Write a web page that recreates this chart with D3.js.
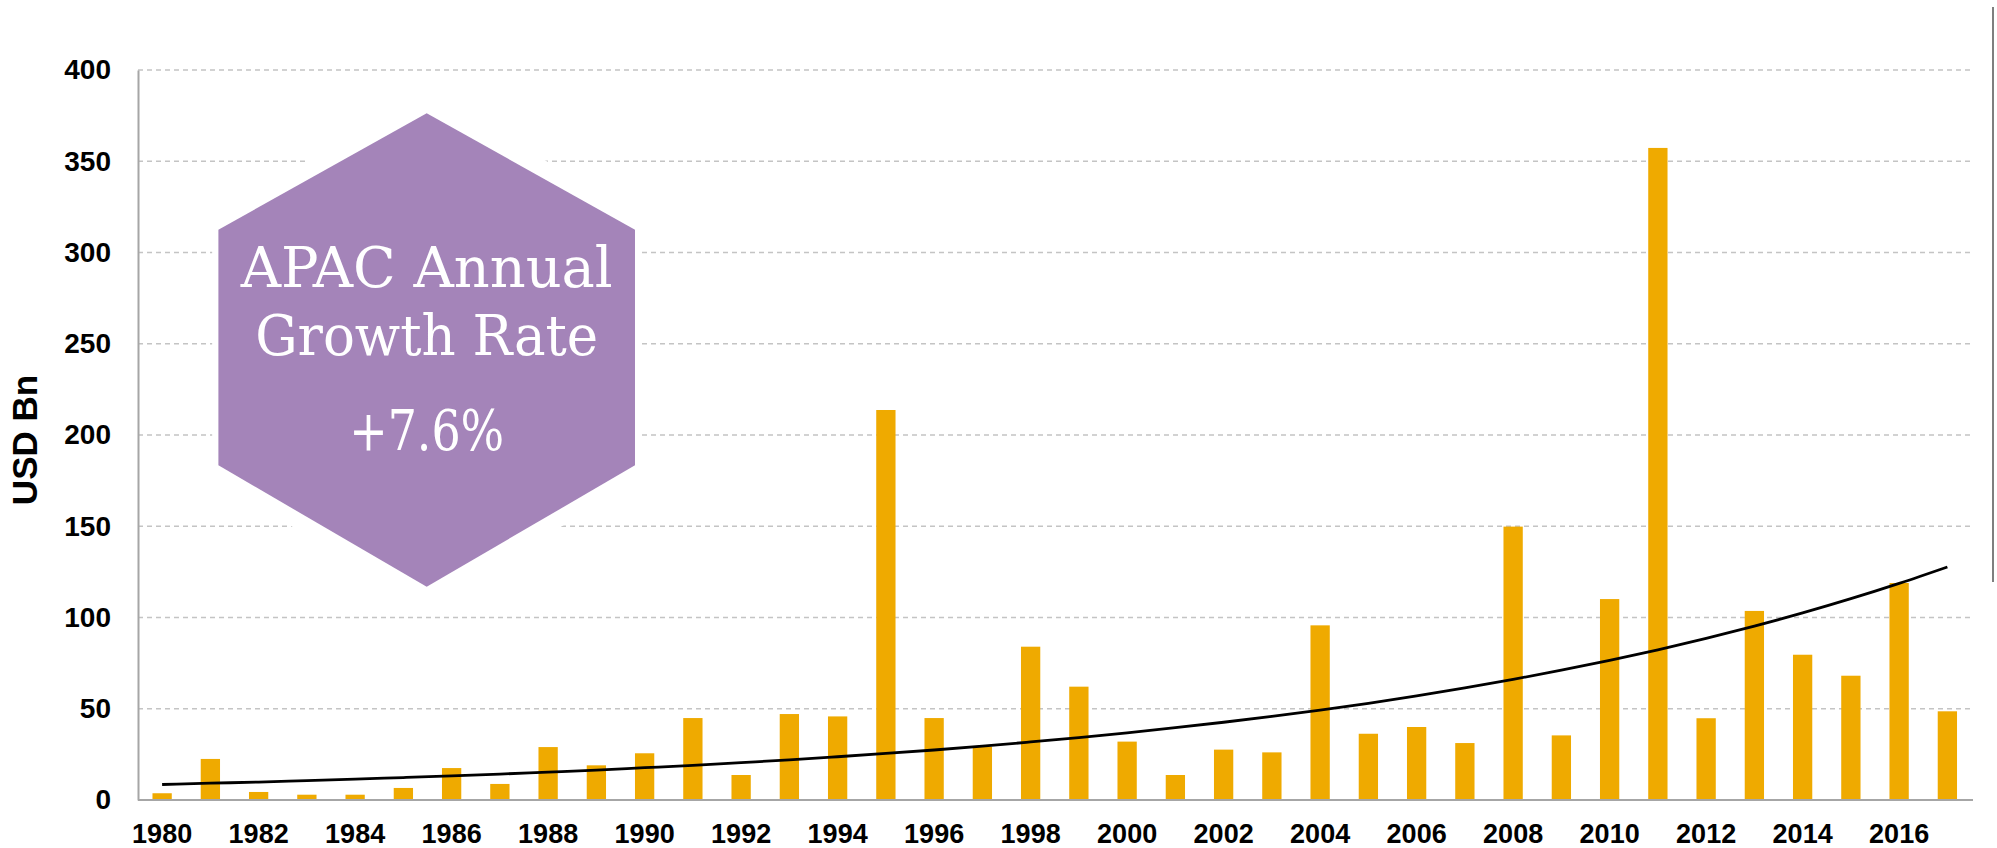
<!DOCTYPE html>
<html>
<head>
<meta charset="utf-8">
<script src="https://cdn.jsdelivr.net/npm/d3@7"></script>
<style>
  html, body { margin: 0; padding: 0; background: #fff; }
  svg { display: block; }
</style>
</head>
<body>
<svg id="chart" width="1997" height="848"></svg>
<script>
const years = [1980,1981,1982,1983,1984,1985,1986,1987,1988,1989,1990,1991,1992,1993,1994,1995,1996,1997,1998,1999,2000,2001,2002,2003,2004,2005,2006,2007,2008,2009,2010,2011,2012,2013,2014,2015,2016,2017];
const values = [3.7,22.5,4.4,2.9,2.9,6.6,17.5,8.8,29,19,25.6,44.9,13.7,47.1,45.8,213.7,44.9,29.2,84,62.1,32,13.7,27.6,26.1,95.7,36.3,40,31.2,149.8,35.4,110.1,357.3,44.8,103.6,79.6,68.1,118.9,48.6];
const trend = [8.5,9.2,9.8,10.6,11.4,12.3,13.2,14.2,15.3,16.4,17.7,19.0,20.5,22.0,23.7,25.5,27.4,29.5,31.8,34.2,36.8,39.6,42.6,45.8,49.3,53.0,57.1,61.4,66.1,71.1,76.5,82.3,88.6,95.3,102.5,110.3,118.7,127.7];
const yTicks = [0,50,100,150,200,250,300,350,400];
const xTickYears = [1980,1982,1984,1986,1988,1990,1992,1994,1996,1998,2000,2002,2004,2006,2008,2010,2012,2014,2016];
const yAxisTitle = "USD Bn";
const badgeLines = ["APAC Annual", "Growth Rate", "+7.6%"];

const svg = d3.select("#chart");
const plotLeft = 138, plotRight = 1971.5, plotTop = 70, plotBottom = 800;

const x = d3.scaleBand().domain(years).range([plotLeft, plotRight]).paddingInner(0.6).paddingOuter(0.3);
const y = d3.scaleLinear().domain([0, 400]).range([plotBottom, plotTop]);

// gridlines
svg.append("g").selectAll("line").data(yTicks.filter(d => d > 0)).join("line")
  .attr("x1", plotLeft).attr("x2", 1970)
  .attr("y1", d => y(d)).attr("y2", d => y(d))
  .attr("stroke", "#c4c4c4").attr("stroke-width", 1.3).attr("stroke-dasharray", "5,4");

// bars
svg.append("g").selectAll("rect").data(years).join("rect")
  .attr("x", (d) => x(d))
  .attr("width", x.bandwidth())
  .attr("y", (d, i) => y(values[i]))
  .attr("height", (d, i) => y(0) - y(values[i]))
  .attr("fill", "#efaa00");

// hexagon badge (with a white halo behind it, as in the pasted image)
const cx = 426.7, cy = 350, R = 236.7, hw = 208.3;
const hexPts = (sx, sy) => [[cx, cy - R * sy], [cx + hw * sx, cy - (R / 2 + 2) * sy], [cx + hw * sx, cy + (R / 2 - 3) * sy], [cx, cy + R * sy], [cx - hw * sx, cy + (R / 2 - 3) * sy], [cx - hw * sx, cy - (R / 2 + 2) * sy]];
svg.append("path").attr("d", d3.line()(hexPts(1.03, 1.1)) + "Z").attr("fill", "#fff");
svg.append("path").attr("d", d3.line()(hexPts(1, 1)) + "Z").attr("fill", "#a484b9");

const badge = svg.append("g").attr("fill", "#fff").attr("font-family", "'DejaVu Serif', 'Liberation Serif', serif").attr("font-stretch", "condensed").attr("text-anchor", "middle");
badge.append("text").attr("x", cx).attr("y", 286.7).attr("font-size", 56).attr("textLength", 372).attr("lengthAdjust", "spacingAndGlyphs").text(badgeLines[0]);
badge.append("text").attr("x", cx).attr("y", 355).attr("font-size", 56).attr("textLength", 343).attr("lengthAdjust", "spacingAndGlyphs").text(badgeLines[1]);
badge.append("text").attr("x", cx).attr("y", 450).attr("font-size", 56).attr("textLength", 155).attr("lengthAdjust", "spacingAndGlyphs").text(badgeLines[2]);

// trend line
const line = d3.line().x((d, i) => x(years[i]) + x.bandwidth() / 2).y(d => y(d)).curve(d3.curveMonotoneX);
svg.append("path").datum(trend).attr("d", line).attr("fill", "none").attr("stroke", "#000").attr("stroke-width", 2.8);

// axes
const yAxis = d3.axisLeft(y).tickValues(yTicks).tickSize(0).tickPadding(27);
const gy = svg.append("g").attr("transform", `translate(${plotLeft},0)`).call(yAxis);
gy.select(".domain").attr("stroke", "#a6a6a6").attr("stroke-width", 2);
gy.selectAll("text").attr("font-family", "'Liberation Sans', Arial, sans-serif").attr("font-weight", "bold").attr("font-size", 28).attr("fill", "#000");

const xAxis = d3.axisBottom(x).tickValues(xTickYears).tickSize(0).tickPadding(24);
const gx = svg.append("g").attr("transform", `translate(0,${plotBottom})`).call(xAxis);
gx.select(".domain").attr("stroke", "#a6a6a6").attr("stroke-width", 2).attr("d", `M${plotLeft},0H1973`);
gx.selectAll("text").attr("font-family", "'Liberation Sans', Arial, sans-serif").attr("font-weight", "bold").attr("font-size", 27).attr("fill", "#000");

// y axis title
svg.append("text").attr("transform", "translate(37,440) rotate(-90)")
  .attr("text-anchor", "middle").attr("font-family", "'Liberation Sans', Arial, sans-serif")
  .attr("font-weight", "bold").attr("font-size", 35).attr("fill", "#000").text(yAxisTitle);

// right edge border line
svg.append("line").attr("x1", 1993).attr("x2", 1993).attr("y1", 7).attr("y2", 582)
  .attr("stroke", "#555").attr("stroke-width", 1.5);
</script>
</body>
</html>
